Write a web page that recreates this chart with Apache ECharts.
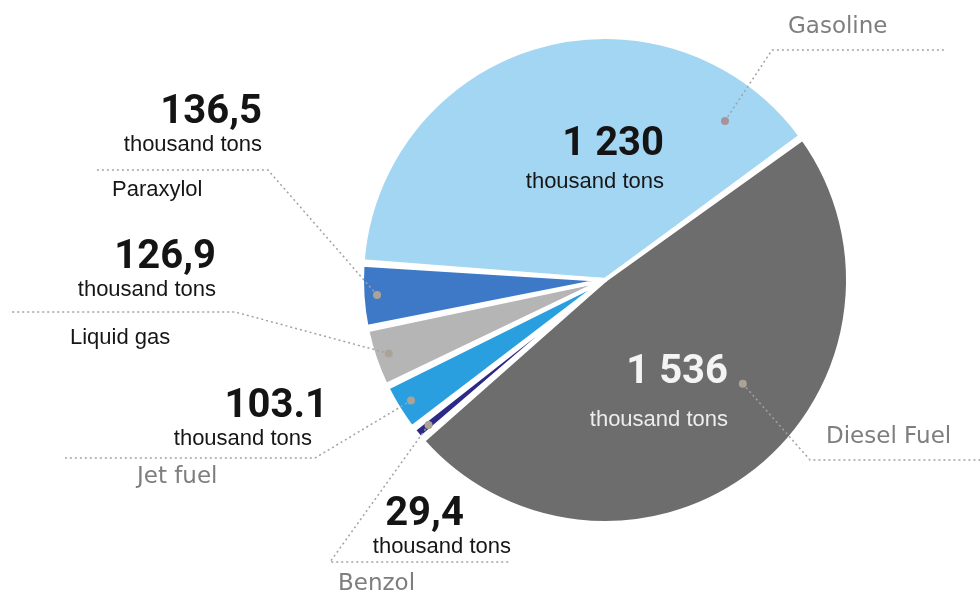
<!DOCTYPE html>
<html>
<head>
<meta charset="utf-8">
<script src="https://cdn.jsdelivr.net/npm/echarts@6/dist/echarts.min.js"></script>
<style>
  html, body { margin: 0; padding: 0; background: #fff; }
  #chart { width: 980px; height: 595px; }
</style>
</head>
<body>
<div id="chart"></div>
<script>
const products = ['Gasoline', 'Diesel Fuel', 'Benzol', 'Jet fuel', 'Liquid gas', 'Paraxylol']
const volumes = [1230, 1536, 29.4, 103.1, 126.9, 136.5]
const volumeLabels = ['1 230', '1 536', '29,4', '103.1', '126,9', '136,5']
const unitLabel = 'thousand tons'
const colors = ['#a3d6f3', '#6d6d6d', '#2c2a88', '#2a9fdf', '#b5b5b5', '#3e79c7']

const CX = 605, CY = 280, R = 243
const START = 176

// annotation geometry: label box, leader elbow / end, dot = [share of radius, shift from slice middle in deg]
const notes = [
  { box: [788, 13], elbow: [772, 50], end: 945, dot: [0.82, 53], name: 'g' },
  { box: [826, 423], elbow: [810, 460], end: 980, dot: [0.71, -14.5], name: 'g' },
  { box: [338, 496], width: 173, gap: 10, elbow: [330, 562], end: 510, dot: [0.94, 0], value: 'vc', name: 'g' },
  { box: [137, 388], width: 191, gap: 11, elbow: [315, 458], end: 65, dot: [0.94, 0], unit: 'ui', name: 'g' },
  { box: [70, 239], width: 146, gap: 22, elbow: [235, 312], end: 10, dot: [0.94, 0], name: 'n' },
  { box: [112, 94], width: 150, gap: 19, elbow: [268, 170], end: 95, dot: [0.94, 0], name: 'n' }
]
// values written inside the two big slices (right edge, top)
const insideNotes = [
  { at: [664, 121], value: 'iv', unit: 'u' },
  { at: [728, 339], value: 'ivd', unit: 'uw' }
]

const valueFont = { fontFamily: 'Roboto', fontWeight: 'bold', fontSize: 40, color: '#141414' }
const unitFont = { fontFamily: 'Liberation Sans', fontSize: 22, lineHeight: 26, color: '#161616' }
const rich = {
  v: { ...valueFont, lineHeight: 38, align: 'right' },
  vc: { ...valueFont, lineHeight: 38, align: 'center' },
  iv: { ...valueFont, lineHeight: 48, align: 'right' },
  ivd: { ...valueFont, lineHeight: 68, align: 'right', color: '#f4f4f4' },
  u: { ...unitFont, align: 'right' },
  ui: { ...unitFont, align: 'right', padding: [0, 16, 0, 0] },
  uw: { ...unitFont, align: 'right', color: '#ededed' },
  n: { ...unitFont, align: 'left' },
  g: { fontFamily: 'DejaVu Sans', fontSize: 23, lineHeight: 28, color: '#7e7e7e', align: 'left' },
  dm: { width: 8, height: 8, lineHeight: 8, borderRadius: 4, backgroundColor: '#a8939a' },
  dg: { width: 8, height: 8, lineHeight: 8, borderRadius: 4, backgroundColor: '#aba397' }
}
notes.forEach(n => {
  if (n.gap) rich['sp' + n.gap] = { fontSize: 1, lineHeight: n.gap, height: n.gap }
})

function dotAt(mid, i) {
  const [share, shift] = notes[i].dot
  const a = mid + shift * Math.PI / 180
  return [CX + Math.cos(a) * R * share, CY + Math.sin(a) * R * share]
}

const pieBase = {
  type: 'pie',
  center: [CX, CY],
  radius: R,
  startAngle: START,
  padAngle: 0.8,
  avoidLabelOverlap: false,
  silent: true,
  emphasis: { disabled: true }
}

const chart = echarts.init(document.getElementById('chart'))
chart.setOption({
  animation: false,
  backgroundColor: '#fff',
  series: [
    {
      ...pieBase,
      itemStyle: { borderColor: '#fff', borderWidth: 4 },
      label: {
        position: 'outside',
        rich,
        formatter: p => {
          const i = p.dataIndex, n = notes[i]
          if (i < 2) return `{g|${products[i]}}`
          return `{${n.value || 'v'}|${volumeLabels[i]}}\n{${n.unit || 'u'}|${unitLabel}}\n{sp${n.gap}| }\n{${n.name}|${products[i]}}`
        }
      },
      labelLine: { show: false },
      labelLayout: p => {
        const n = notes[p.dataIndex]
        return { x: n.box[0], y: n.box[1], align: 'left', verticalAlign: 'top' }
      },
      data: products.map((name, i) => ({
        name,
        value: volumes[i],
        itemStyle: { color: colors[i] },
        label: notes[i].width ? { width: notes[i].width } : {}
      }))
    },
    {
      // dots and dotted leader lines, drawn above the slices
      ...pieBase,
      z: 3,
      itemStyle: { color: 'rgba(0,0,0,0)', borderWidth: 0 },
      label: { position: 'outside', rich, formatter: p => p.dataIndex === 0 ? '{dm| }' : '{dg| }' },
      labelLine: { show: true, lineStyle: { color: '#a2a2a2', width: 1.5, type: [2, 3] } },
      labelLayout: p => {
        const n = notes[p.dataIndex]
        const p0 = p.labelLinePoints ? p.labelLinePoints[0] : [p.labelRect.x, p.labelRect.y]
        const d = dotAt(Math.atan2(p0[1] - CY, p0[0] - CX), p.dataIndex)
        return {
          x: d[0], y: d[1], align: 'center', verticalAlign: 'middle',
          labelLinePoints: [d, n.elbow, [n.end, n.elbow[1]]]
        }
      },
      data: products.map((name, i) => ({ name, value: volumes[i] }))
    },
    {
      // values inside gasoline and diesel
      ...pieBase,
      z: 4,
      itemStyle: { color: 'rgba(0,0,0,0)', borderWidth: 0 },
      label: {
        position: 'inside',
        rich,
        formatter: p => {
          const s = insideNotes[p.dataIndex]
          if (!s) return ''
          return `{${s.value}|${volumeLabels[p.dataIndex]}}\n{${s.unit}|${unitLabel}}`
        }
      },
      labelLine: { show: false },
      labelLayout: p => {
        const s = insideNotes[p.dataIndex]
        if (!s) return {}
        return { x: s.at[0], y: s.at[1], align: 'right', verticalAlign: 'top' }
      },
      data: products.map((name, i) => ({ name, value: volumes[i], label: { show: i < 2 } }))
    }
  ]
})
</script>
</body>
</html>
